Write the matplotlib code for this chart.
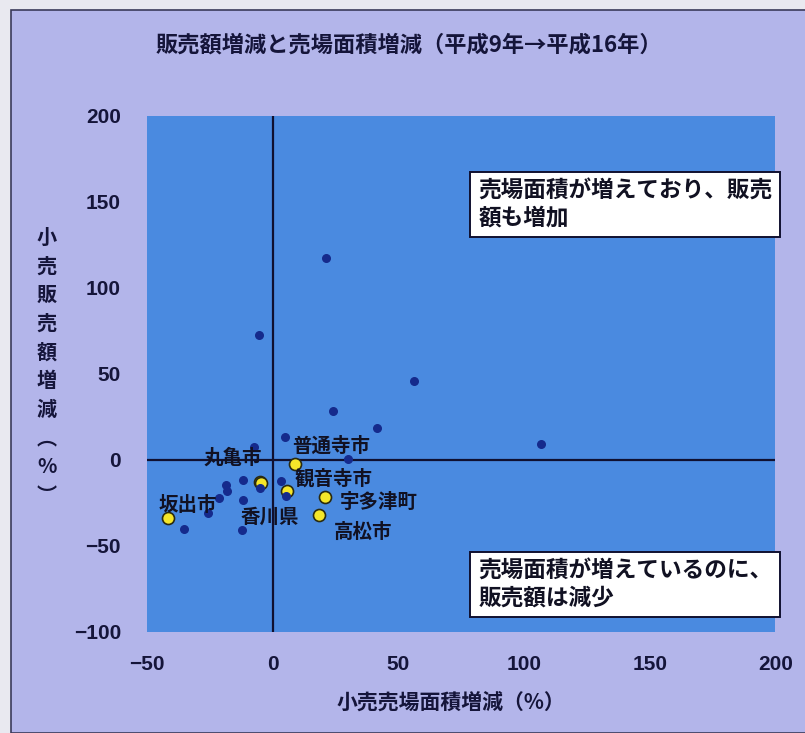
import numpy as np
import matplotlib.pyplot as plt
from matplotlib.patches import Rectangle

plt.rcParams['font.family'] = ['Noto Sans CJK JP', 'DejaVu Sans']

# 市町村別 (売場面積増減, 販売額増減) %
other_x = [21.1, -5.6, 56.1, 23.9, 41.4, 106.7, 4.8, -7.6, 29.9, -11.9,
           -18.7, -18.3, 3.2, 5.2, -11.9, -21.5, -25.9, -35.4, -12.3, -5.2]
other_y = [117.4, 72.7, 45.9, 28.5, 18.6, 9.3, 13.4, 7.6, 0.6, -11.6,
           -14.5, -18.0, -12.2, -20.9, -23.3, -22.1, -30.8, -40.1, -40.7, -16.3]

named = ['普通寺市', '丸亀市', '観音寺市', '宇多津町', '高松市', '坂出市', '香川県']
named_x = [8.8, -5.2, 5.6, 20.7, 18.3, -41.8, -4.6]
named_y = [-2.3, -12.8, -18.0, -21.5, -32.0, -33.7, -13.4]
# ラベルの位置 (点からのずれ, pixel)
label_dx = [36, -27, 47, 54, 44, 20, 8]
label_dy = [18, 24, 12, -6, -18, 12, -34]

xticks = [-50, 0, 50, 100, 150, 200]
yticks = [-100, -50, 0, 50, 100, 150, 200]

fig = plt.figure(figsize=(8.05, 7.33), dpi=100)
fig.patch.set_facecolor('#e9e9f0')
frame = Rectangle((0.014, 0.0), 1.0, 0.987, transform=fig.transFigure,
                  facecolor='#b3b5ea', edgecolor='#3a3a5a', lw=1.2, zorder=-10)
fig.add_artist(frame)

ax = fig.add_axes([0.183, 0.138, 0.780, 0.704])
ax.set_zorder(1)
ax.set_facecolor('#4a8ae0')
for s in ax.spines.values():
    s.set_visible(False)
ax.set_xlim(-50, 200)
ax.set_ylim(-100, 200)
ax.set_xticks(xticks)
ax.set_yticks(yticks)
ax.tick_params(axis='x', length=0, labelsize=15, pad=17, colors='#15153a')
ax.tick_params(axis='y', length=0, labelsize=15, pad=19, colors='#15153a')
for lab in ax.get_xticklabels() + ax.get_yticklabels():
    lab.set_fontweight('bold')
    lab.set_family('Liberation Sans')

ax.axhline(0, color='#101030', lw=1.6, zorder=1)
ax.axvline(0, color='#101030', lw=1.6, zorder=1)

ax.scatter(named_x, named_y, s=75, color='#f5e62a', edgecolors='#2a2a10',
           linewidths=1.2, zorder=2)
ax.scatter(other_x, other_y, s=30, color='#152a8c', zorder=3)

for name, x, y, dx, dy in zip(named, named_x, named_y, label_dx, label_dy):
    ax.annotate(name, (x, y), xytext=(dx, dy), textcoords='offset pixels',
                ha='center', va='center', fontsize=14, fontweight='bold',
                color='#111122', zorder=4)

box = dict(boxstyle='square,pad=0.35', facecolor='white', edgecolor='#101030', lw=1.4)
ax.text(0.527, 0.876, '売場面積が増えており、販売\n額も増加', transform=ax.transAxes,
        fontsize=16.3, fontweight='bold', va='top', ha='left', bbox=box,
        linespacing=1.2, color='#111122', zorder=5, clip_on=False)
ax.text(0.527, 0.14, '売場面積が増えているのに、\n販売額は減少', transform=ax.transAxes,
        fontsize=16.3, fontweight='bold', va='top', ha='left', bbox=box,
        linespacing=1.2, color='#111122', zorder=5, clip_on=False)

fig.text(0.508, 0.938, '販売額増減と売場面積増減（平成9年→平成16年）', ha='center',
         va='center', fontsize=16, fontweight='bold', color='#15153a')
fig.text(0.56, 0.042, '小売売場面積増減（%）', ha='center', va='center',
         fontsize=15, fontweight='bold', color='#15153a')
fig.text(0.058, 0.5, '小\n売\n販\n売\n額\n増\n減\n︵\n%\n︶', ha='center', va='center',
         fontsize=14.5, fontweight='bold', color='#15153a', linespacing=1.45)

fig.savefig('out.png', dpi=100, facecolor=fig.get_facecolor())
